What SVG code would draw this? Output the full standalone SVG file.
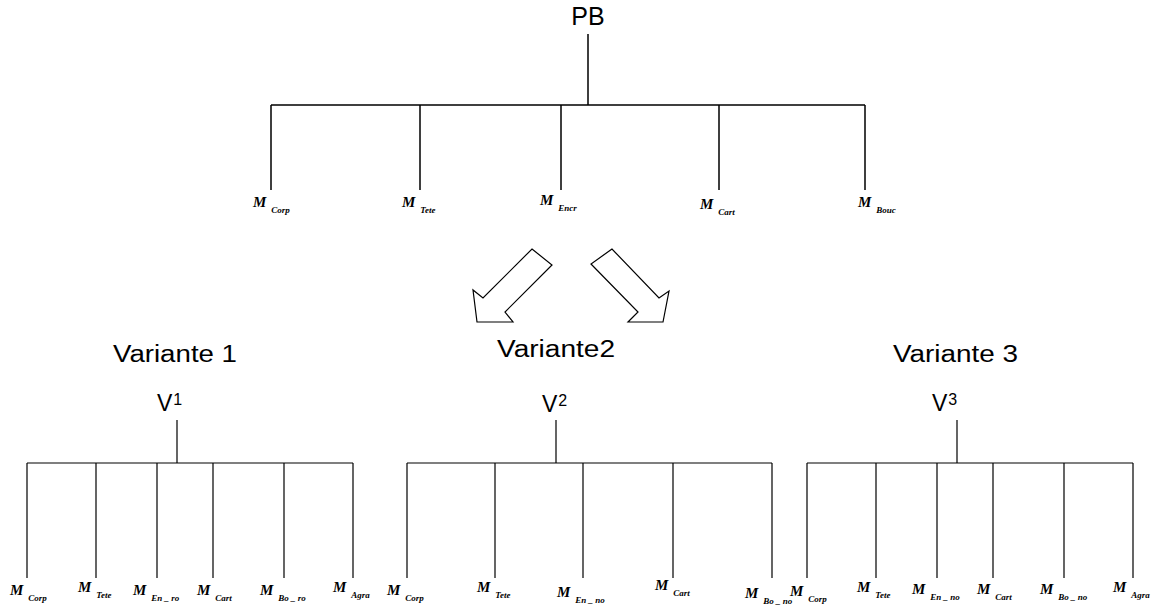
<svg xmlns="http://www.w3.org/2000/svg" width="1159" height="609" viewBox="0 0 1159 609">
<style>
.ln{stroke:#000;stroke-width:1.2;fill:none}
.lt{stroke:#000;stroke-width:1.5;fill:none}
.hd{font-family:"Liberation Sans",Arial,sans-serif;fill:#000}
.m{font-family:"Liberation Serif","Times New Roman",serif;font-style:italic;font-weight:bold;font-size:15px;fill:#000}
.s{font-size:9px}
.sp{font-size:16px}
.arr{fill:#fff;stroke:#000;stroke-width:1.2;stroke-linejoin:miter}
</style>
<rect width="1159" height="609" fill="#fff"/>
<g id="connectors">
  <path class="lt" d="M588 34V105M271 105H865M271 105V190M420 105V190M561 105V190M719 105V190M865 105V190"/>
  <path class="ln" d="M177 420V463M27 463H353M27 463V578M96 463V578M157 463V578M213 463V578M284 463V578M353 463V578"/>
  <path class="ln" d="M556 420V463M407 463H772M407 463V578M495 463V578M583 463V578M673 463V578M772 463V578"/>
  <path class="ln" d="M957 420V463M807 463H1133M807 463V578M876 463V578M937 463V578M993 463V578M1064 463V578M1133 463V578"/>
</g>
<g id="arrows">
  <polygon class="arr" points="532,249 552,265 505,312 513,322 477,322 473,290 483,298"/>
  <polygon class="arr" points="612,249 591,264 638,312 628,322 663,322 669,291 659,298"/>
</g>
<g id="root">
  <text class="hd" x="588" y="25" font-size="25" text-anchor="middle">PB</text>
</g>
<g id="top-modules">
  <text class="m" x="253" y="207">M<tspan class="s" dx="5" dy="6">Corp</tspan></text>
  <text class="m" x="402" y="207">M<tspan class="s" dx="5" dy="6">Tete</tspan></text>
  <text class="m" x="540" y="205">M<tspan class="s" dx="5" dy="6">Encr</tspan></text>
  <text class="m" x="700" y="209">M<tspan class="s" dx="5" dy="6">Cart</tspan></text>
  <text class="m" x="858" y="207">M<tspan class="s" dx="5" dy="6">Bouc</tspan></text>
</g>
<g id="variante1">
  <text class="hd" x="113" y="362" font-size="23" textLength="124" lengthAdjust="spacingAndGlyphs">Variante 1</text>
  <text class="hd" x="157" y="411" font-size="23">V<tspan class="sp" dx="1" dy="-6">1</tspan></text>
  <text class="m" x="10" y="595">M<tspan class="s" dx="5" dy="6">Corp</tspan></text>
  <text class="m" x="78" y="592">M<tspan class="s" dx="5" dy="6">Tete</tspan></text>
  <text class="m" x="133" y="595">M<tspan class="s" dx="5" dy="6">En _ ro</tspan></text>
  <text class="m" x="197" y="595">M<tspan class="s" dx="5" dy="6">Cart</tspan></text>
  <text class="m" x="260" y="595">M<tspan class="s" dx="5" dy="6">Bo _ ro</tspan></text>
  <text class="m" x="333" y="592">M<tspan class="s" dx="5" dy="6">Agra</tspan></text>
</g>
<g id="variante2">
  <text class="hd" x="497" y="357" font-size="23" textLength="118" lengthAdjust="spacingAndGlyphs">Variante2</text>
  <text class="hd" x="542" y="412" font-size="23">V<tspan class="sp" dx="1" dy="-6">2</tspan></text>
  <text class="m" x="387" y="595">M<tspan class="s" dx="5" dy="6">Corp</tspan></text>
  <text class="m" x="477" y="592">M<tspan class="s" dx="5" dy="6">Tete</tspan></text>
  <text class="m" x="557" y="597">M<tspan class="s" dx="5" dy="6">En _ no</tspan></text>
  <text class="m" x="655" y="590">M<tspan class="s" dx="5" dy="6">Cart</tspan></text>
  <text class="m" x="745" y="598">M<tspan class="s" dx="5" dy="6">Bo _ no</tspan></text>
</g>
<g id="variante3">
  <text class="hd" x="893" y="362" font-size="23" textLength="125" lengthAdjust="spacingAndGlyphs">Variante 3</text>
  <text class="hd" x="932" y="411" font-size="23">V<tspan class="sp" dx="1" dy="-6">3</tspan></text>
  <text class="m" x="790" y="596">M<tspan class="s" dx="5" dy="6">Corp</tspan></text>
  <text class="m" x="857" y="592">M<tspan class="s" dx="5" dy="6">Tete</tspan></text>
  <text class="m" x="912" y="594">M<tspan class="s" dx="5" dy="6">En _ no</tspan></text>
  <text class="m" x="977" y="594">M<tspan class="s" dx="5" dy="6">Cart</tspan></text>
  <text class="m" x="1040" y="594">M<tspan class="s" dx="5" dy="6">Bo _ no</tspan></text>
  <text class="m" x="1113" y="592">M<tspan class="s" dx="5" dy="6">Agra</tspan></text>
</g>
</svg>
